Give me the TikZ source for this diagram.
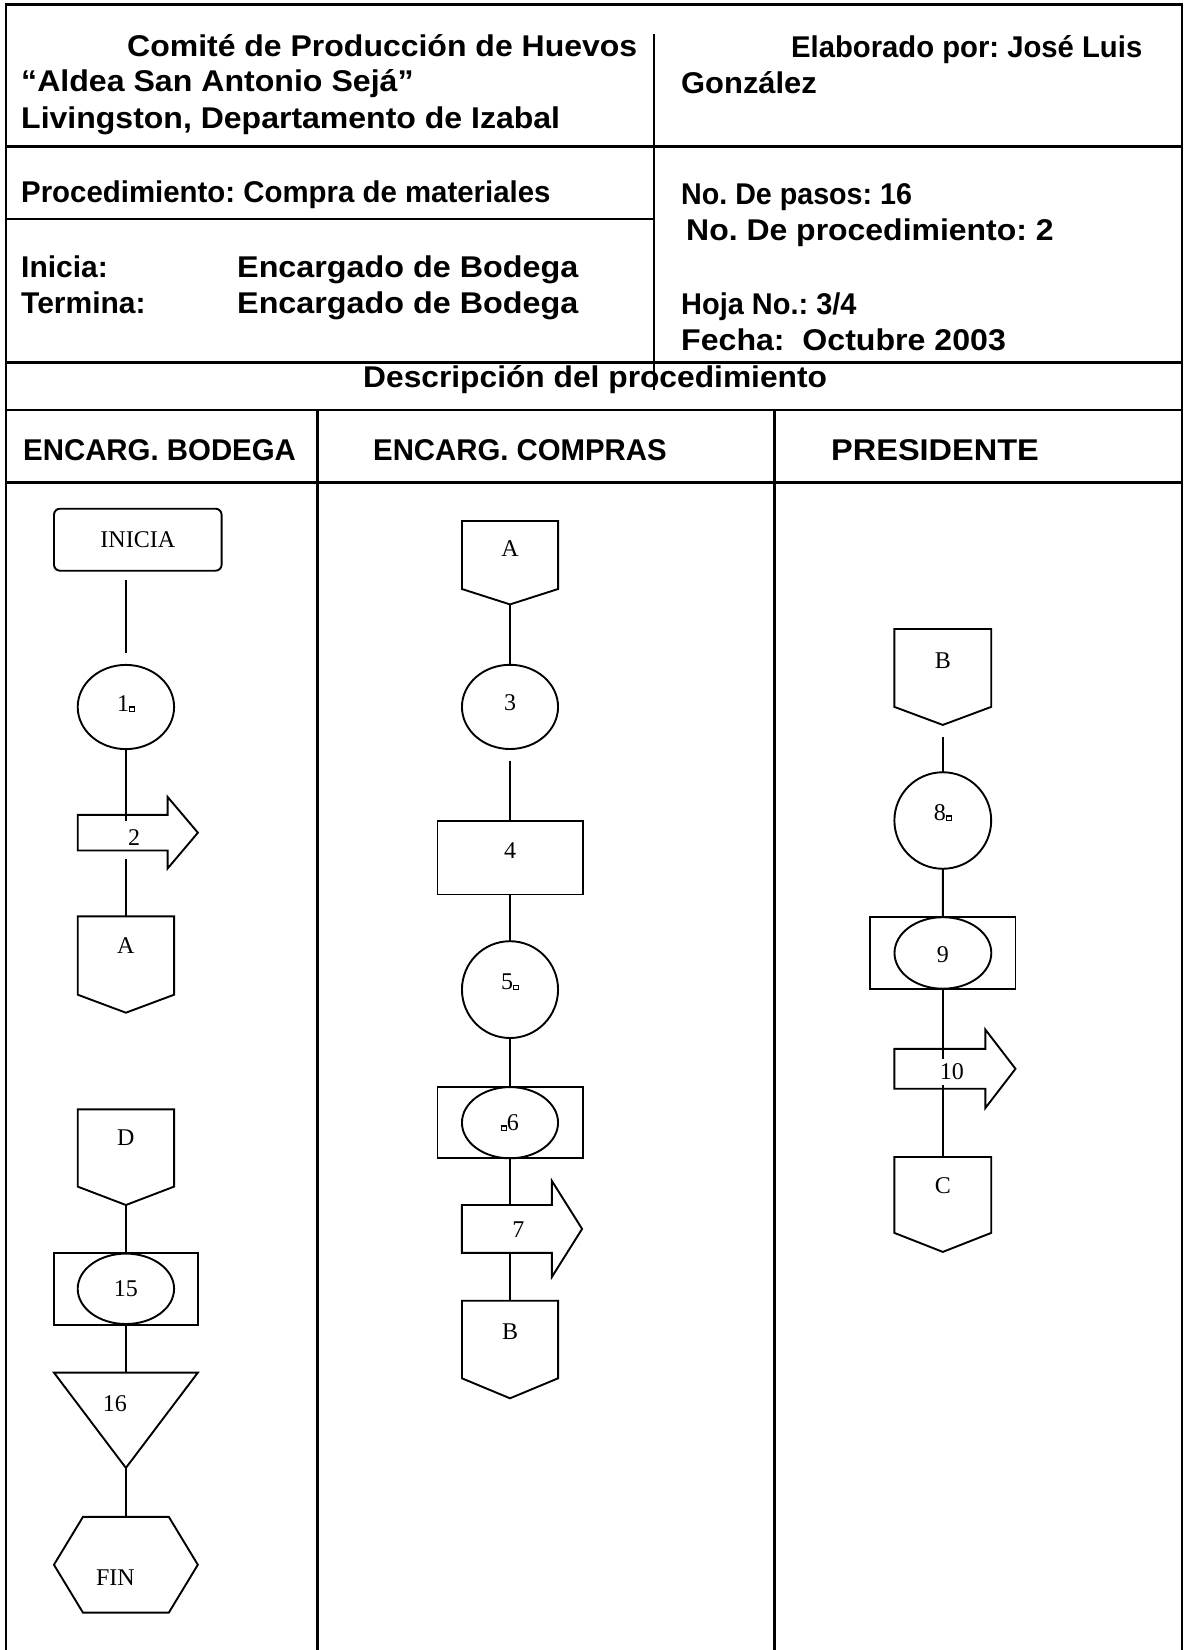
\documentclass[tikz,border=0pt]{standalone}
\usepackage{fontspec}
\usepackage{graphicx}
\setmainfont{Liberation Serif}
\newfontfamily\hdrfamily{Liberation Sans}
\usetikzlibrary{shapes.geometric, positioning, calc}
\frenchspacing

\newcommand{\hdrfont}{\hdrfamily\bfseries\fontsize{30}{36}\selectfont}
\newcommand{\flowfont}{\fontsize{24}{28}\selectfont}
% header lines are a bit wider or narrower than the font
\newcommand{\wider}[2]{\scalebox{#1}[1]{#2}}
% little square after some step numbers
\newcommand{\sqm}{\raisebox{0.5pt}{\fboxsep=0pt\fboxrule=1.2pt\fbox{\rule{3.4pt}{0pt}\rule{0pt}{3.4pt}}}}

% outlines drawn round invisible boxes
\newcommand{\offpage}[2]{\draw[flow] (#1.north west) -- (#1.north east) -- ([yshift=#2pt]#1.south east) -- (#1.south) -- ([yshift=#2pt]#1.south west) -- cycle;}
\newcommand{\rarrow}[3]{\draw[flow] (#1.north west) -- (#1.north east) -- ([yshift=#2pt]#1.north east) -- ([xshift=#3pt]#1.east) -- ([yshift=-#2pt]#1.south east) -- (#1.south east) -- (#1.south west) -- cycle;}
\newcommand{\hexa}[2]{\draw[flow] (#1.west) -- ([xshift=#2pt]#1.north west) -- ([xshift=-#2pt]#1.north east) -- (#1.east) -- ([xshift=-#2pt]#1.south east) -- ([xshift=#2pt]#1.south west) -- cycle;}
\newcommand{\tria}[1]{\draw[flow] (#1.north west) -- (#1.north east) -- (#1.south) -- cycle;}

\begin{document}
\begin{tikzpicture}[
    x=1pt, y=-1pt,
    frame/.style={line width=2.7pt},
    flow/.style={line width=1.9pt, line join=miter},
    hdr/.style={font=\hdrfont, anchor=base west, inner sep=0pt},
    shapebox/.style={inner sep=0pt, outer sep=0pt, font=\flowfont, anchor=north},
    rbox/.style={shapebox, draw, flow},
    circ/.style={draw, flow, ellipse, inner sep=0pt, outer sep=0pt, font=\flowfont}
]
\useasboundingbox (0,0) rectangle (1185,1650);

% form frame
\draw[frame] (6,1660) -- (6,4.7) -- (1182,4.7) -- (1182,1660);
\draw[frame] (6,146.7) -- (1182,146.7);
\draw[frame] (6,219) -- (654,219);
\draw[frame] (6,362.3) -- (1182,362.3);
\draw[frame] (6,410) -- (1182,410);
\draw[frame] (6,482.3) -- (1182,482.3);
\draw[frame] (654,34) -- (654,390);
\draw[frame] (317.5,410) -- (317.5,1660);
\draw[frame] (774.7,410) -- (774.7,1660);

% header texts
\node[hdr] (org1) at (127,56) {\wider{1.066}{Comité de Producción de Huevos}};
\node[hdr] (org2) at (21,91.7) {\wider{1.07}{“Aldea San Antonio Sejá”}};
\node[hdr] (org3) at (21,128) {\wider{1.067}{Livingston, Departamento de Izabal}};
\node[hdr] (auth1) at (791,57) {\wider{0.975}{Elaborado por: José Luis}};
\node[hdr] (auth2) at (681,93) {\wider{1.03}{González}};
\node[hdr] (proc) at (21,202) {\wider{0.98}{Procedimiento: Compra de materiales}};
\node[hdr] (pasos) at (681,204) {\wider{0.955}{No. De pasos: 16}};
\node[hdr] (nproc) at (686,240) {\wider{1.065}{No. De procedimiento: 2}};
\node[hdr] (ini) at (21,277) {Inicia:};
\node[hdr] (inienc) at (237,277) {\wider{1.077}{Encargado de Bodega}};
\node[hdr] (ter) at (21,313) {Termina:};
\node[hdr] (terenc) at (237,313) {\wider{1.077}{Encargado de Bodega}};
\node[hdr] (hoja) at (681,314) {\wider{0.965}{Hoja No.: 3/4}};
\node[hdr] (fecha) at (681,350) {\wider{1.07}{Fecha:\ \ Octubre 2003}};
\node[hdr] (desc) at (363,387) {\wider{1.058}{Descripción del procedimiento}};
\node[hdr] (lane1) at (23,460) {\wider{0.98}{ENCARG. BODEGA}};
\node[hdr] (lane2) at (373,460) {\wider{0.978}{ENCARG. COMPRAS}};
\node[hdr] (lane3) at (831,460) {\wider{1.083}{PRESIDENTE}};

% Encargado de bodega
\node[rbox, rounded corners=6pt, minimum width=167.6pt, text height=38.3pt, text depth=23.7pt] (inicia) at (137.8,508.7) {INICIA};
\node[circ, minimum width=96.4pt, minimum height=84.2pt, text height=20pt, text depth=11pt] (c1) at (125.9,707) {1\sqm};
\node[shapebox, anchor=north west, minimum width=89.9pt, text height=30.6pt, text depth=5pt] (ar2) at (77.7,814.9) {\hspace*{23pt}2};
\rarrow{ar2}{18}{30.3}
\node[shapebox, minimum width=96.4pt, text height=36.7pt, text depth=59.7pt] (offA1) at (125.9,916.3) {A};
\offpage{offA1}{18}

\node[shapebox, minimum width=96.4pt, text height=36.4pt, text depth=59.3pt] (offD) at (125.9,1109.3) {D};
\offpage{offD}{18.4}
\node[rbox, minimum width=143.9pt, minimum height=72pt] (r15) at (125.9,1252.8) {};
\node[circ, minimum width=96.4pt, minimum height=70.4pt, text height=20pt, text depth=4pt] (e15) at (r15.center) {15};
\node[shapebox, minimum width=143.9pt, text height=39pt, text depth=56.3pt] (tri16) at (125.9,1372.6) {16\hspace*{22pt}};
\tria{tri16}
\node[shapebox, minimum width=143.9pt, text height=68.9pt, text depth=26.8pt] (fin) at (125.9,1516.9) {FIN\hspace*{21pt}};
\hexa{fin}{29}

\draw[flow, shorten <=9.6pt, shorten >=11.8pt] (c1.north |- inicia.south) -- (c1.north);
\draw[flow, shorten >=-5.7pt] (c1.south) -- (c1.south |- ar2.north);
\draw[flow, shorten <=8.4pt] (offA1.north |- ar2.south) -- (offA1.north);
\draw[flow] (offD.south) -- (r15.north);
\draw[flow] (r15.south) -- (tri16.north);
\draw[flow] (tri16.south) -- (fin.north);

% Encargado de compras
\node[shapebox, minimum width=96.1pt, text height=35pt, text depth=48.4pt] (offA2) at (510,521) {A};
\offpage{offA2}{15.4}
\node[circ, minimum width=96.1pt, minimum height=84.2pt, text height=20pt, text depth=12.2pt] (c3) at (510,706.9) {3};
\node[rbox, minimum width=145.1pt, text height=38.3pt, text depth=35.6pt] (r4) at (510,820.6) {4};
\node[circ, minimum width=96.1pt, minimum height=96.8pt, text height=16pt, text depth=16pt] (c5) at (510,989.6) {5\sqm};
\node[rbox, minimum width=145.1pt, minimum height=71.2pt] (r6) at (510,1087.1) {};
\node[circ, minimum width=96.1pt, minimum height=71.2pt, text height=20pt, text depth=4.6pt] (e6) at (r6.center) {\sqm6};
\node[shapebox, anchor=north west, minimum width=90pt, text height=32.5pt, text depth=15.3pt] (ar7) at (461.9,1205) {\hspace*{23pt}7};
\rarrow{ar7}{24.1}{30.2}
\node[shapebox, minimum width=96.1pt, text height=38.3pt, text depth=59.3pt] (offB2) at (510,1300.7) {B};
\offpage{offB2}{20}

\draw[flow] (offA2.south) -- (c3.north);
\draw[flow, shorten <=11.5pt] (c3.south) -- (r4.north);
\draw[flow] (r4.south) -- (c5.north);
\draw[flow] (c5.south) -- (r6.north);
\draw[flow] (r6.south) -- (r6.south |- ar7.north);
\draw[flow] (offB2.north |- ar7.south) -- (offB2.north);

% Presidente
\node[shapebox, minimum width=96.8pt, text height=39.8pt, text depth=56.1pt] (offB3) at (942.8,629) {B};
\offpage{offB3}{18}
\node[circ, minimum width=96.8pt, minimum height=96.5pt, text height=16pt, text depth=16pt] (c8) at (942.8,820.5) {8\sqm};
\node[rbox, minimum width=145.1pt, minimum height=71.5pt] (r9) at (942.9,917.2) {};
\node[circ, minimum width=96.8pt, minimum height=71.5pt, text height=20pt, text depth=1.9pt] (e9) at (r9.center) {9};
\node[shapebox, anchor=north west, minimum width=90.9pt, text height=30.6pt, text depth=9.2pt] (ar10) at (894.4,1048.9) {\hspace*{24pt}10};
\rarrow{ar10}{19.4}{30.2}
\node[shapebox, minimum width=96.8pt, text height=36pt, text depth=58.9pt] (offC) at (942.8,1157) {C};
\offpage{offC}{19}

\draw[flow, shorten <=11.7pt] (offB3.south) -- (c8.north);
\draw[flow] (c8.south) -- (r9.north);
\draw[flow, shorten >=-10.1pt] (r9.south) -- (r9.south |- ar10.north);
\draw[flow, shorten <=-4.1pt] (offC.north |- ar10.south) -- (offC.north);
\end{tikzpicture}
\end{document}
